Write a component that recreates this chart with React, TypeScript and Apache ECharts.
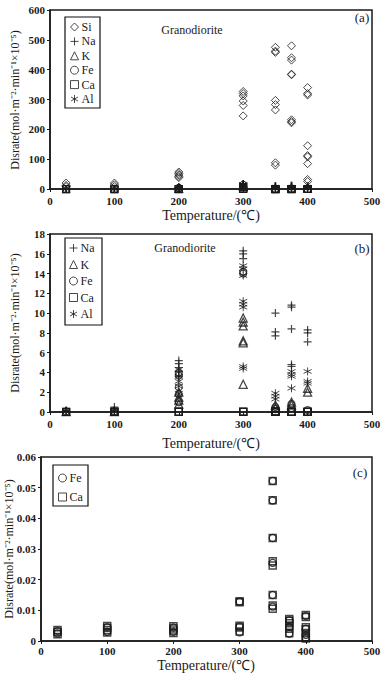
import React, { useEffect, useRef } from "react";
import * as echarts from "echarts";

// ---------- data ----------
const xMin = 0;
const xMax = 500;

// (a) Si dissolution rate
const siA: number[][] = [
  [25, 20], [25, 12], [25, 8],
  [100, 20], [100, 14], [100, 8],
  [200, 57], [200, 52], [200, 47], [200, 42], [200, 38],
  [300, 327], [300, 320], [300, 312], [300, 295], [300, 280], [300, 245],
  [350, 475], [350, 462], [350, 458], [350, 297], [350, 283], [350, 265], [350, 88], [350, 80],
  [375, 480], [375, 440], [375, 432], [375, 385], [375, 383], [375, 232], [375, 226], [375, 222],
  [400, 340], [400, 320], [400, 315], [400, 145], [400, 112], [400, 108], [400, 85], [400, 32], [400, 25],
];

const na: number[][] = [
  [25, 0.15], [25, 0.1],
  [100, 0.5], [100, 0.2], [100, 0.1],
  [200, 5.2], [200, 4.9], [200, 4.5], [200, 4.1], [200, 3.6],
  [300, 16.3], [300, 16.0], [300, 15.5],
  [350, 10.0], [350, 8.1], [350, 7.7],
  [375, 10.8], [375, 10.6], [375, 8.4], [375, 4.8], [375, 4.6],
  [400, 8.3], [400, 8.0], [400, 7.1],
];

const k: number[][] = [
  [25, 0.05], [100, 0.05],
  [200, 2.0], [200, 1.5], [200, 1.2], [200, 0.8],
  [300, 9.5], [300, 9.1], [300, 8.7], [300, 7.2], [300, 7.0], [300, 2.8],
  [350, 0.7], [350, 0.4],
  [375, 1.0], [375, 0.7],
  [400, 2.4], [400, 2.0],
];

const fe: number[][] = [
  [25, 0.05], [100, 0.05],
  [200, 4.0], [200, 3.7], [200, 2.5], [200, 1.8], [200, 1.0],
  [300, 14.2], [300, 14.0],
  [350, 0.5], [350, 0.3],
  [375, 0.8], [375, 0.4],
  [400, 0.2],
];

const al: number[][] = [
  [25, 0.1], [100, 0.1],
  [200, 4.3], [200, 3.6], [200, 3.1], [200, 2.6], [200, 1.9],
  [300, 14.8], [300, 14.5], [300, 13.8], [300, 11.2], [300, 10.9], [300, 10.6], [300, 4.6], [300, 4.4],
  [350, 1.9], [350, 1.6], [350, 1.3],
  [375, 4.1], [375, 3.8], [375, 3.6], [375, 2.4],
  [400, 4.1], [400, 3.1], [400, 2.9],
];

// (c) Fe and Ca at a finer scale
const feC: number[][] = [
  [25, 0.0033], [25, 0.0025],
  [100, 0.0045], [100, 0.003],
  [200, 0.0044], [200, 0.003],
  [300, 0.0128], [300, 0.0047], [300, 0.0028],
  [350, 0.0522], [350, 0.0458], [350, 0.0336], [350, 0.0255], [350, 0.015], [350, 0.0112],
  [375, 0.0068], [375, 0.0045], [375, 0.0024],
  [400, 0.0082], [400, 0.004], [400, 0.002], [400, 0.001],
];

const caC: number[][] = [
  [25, 0.0036], [25, 0.0029], [25, 0.0022],
  [100, 0.0049], [100, 0.0042], [100, 0.0035], [100, 0.0028],
  [200, 0.0048], [200, 0.0041], [200, 0.0034], [200, 0.0026],
  [300, 0.013], [300, 0.0126], [300, 0.005], [300, 0.0044], [300, 0.0031],
  [350, 0.0522], [350, 0.0459], [350, 0.0336], [350, 0.026], [350, 0.0246], [350, 0.015], [350, 0.0116], [350, 0.0105],
  [375, 0.0072], [375, 0.0066], [375, 0.0058], [375, 0.005], [375, 0.004], [375, 0.0025],
  [400, 0.0085], [400, 0.0078], [400, 0.0045], [400, 0.0038], [400, 0.0026], [400, 0.0012], [400, 0.0008],
];

const yRanges = [
  { max: 600, interval: 100 },
  { max: 18, interval: 2 },
  { max: 0.06, interval: 0.01 },
];

// ---------- style ----------
const FONT = "'Liberation Serif', 'Times New Roman', serif";
const INK = "#1a1a1a";
const PLUS = "path://M0,5L10,5M5,0L5,10";
const STAR = "path://M5,0L5,10M0.67,2.5L9.33,7.5M0.67,7.5L9.33,2.5";

const grids = [
  { left: 50, top: 10, width: 322, height: 179 },
  { left: 50, top: 234, width: 322, height: 178 },
  { left: 41, top: 457, width: 331, height: 184 },
];

// legend frames: x, y, w, h
const frames = [
  [65, 17, 35, 91],
  [65, 238, 37, 87],
  [53, 465, 35, 41],
];

function scatter(name: string, g: number, data: number[][], symbol: string, size: number, bw = 1) {
  return {
    type: "scatter",
    name,
    xAxisIndex: g,
    yAxisIndex: g,
    data,
    symbol,
    symbolSize: size,
    itemStyle: { color: "rgba(0,0,0,0)", borderColor: INK, borderWidth: bw },
    emphasis: { disabled: true },
  };
}

const YTITLE = "Disrate(mol·m⁻²·min⁻¹×10⁻⁵)";

export default function App() {
  const ref = useRef<HTMLDivElement>(null);
  useEffect(() => {
    if (!ref.current) return;
    const chart = echarts.init(ref.current, null, { renderer: "svg" });

    const xAxis = grids.map((_, i) => ({
      type: "value",
      gridIndex: i,
      min: xMin,
      max: xMax,
      interval: 100,
      axisLine: { show: true, lineStyle: { color: INK, width: 1.5 } },
      axisTick: { show: true, length: 3, lineStyle: { color: INK } },
      splitLine: { show: false },
      axisLabel: { fontFamily: FONT, fontWeight: "bold", fontSize: 11, color: INK, margin: i === 2 ? 4 : 6 },
    }));
    const yAxis = grids.map((_, i) => ({
      type: "value",
      gridIndex: i,
      min: 0,
      max: yRanges[i].max,
      interval: yRanges[i].interval,
      axisLine: { show: true, lineStyle: { color: INK, width: 1.5 } },
      axisTick: { show: true, length: 3, lineStyle: { color: INK } },
      splitLine: { show: false },
      axisLabel: { fontFamily: FONT, fontWeight: "bold", fontSize: 11, color: INK, margin: 5 },
    }));

    const legendBase = {
      orient: "vertical",
      borderWidth: 0,
      padding: 0,
      itemWidth: 8,
      itemHeight: 8,
      formatter: (n: string) => n.slice(2),
      itemStyle: { borderWidth: 1 },
      textStyle: { fontFamily: FONT, fontSize: 12, lineHeight: 12, color: INK, padding: [0, 0, 0, -2] },
      selectedMode: false,
    };

    const text = (x: number, y: number, t: string, size: number, rot = 0, weight = "normal") => ({
      type: "text",
      x,
      y,
      rotation: rot,
      style: {
        text: t,
        fontFamily: FONT,
        fontSize: size,
        fontWeight: weight,
        fill: INK,
        align: "center",
        verticalAlign: "middle",
      },
    });

    const frameRects = frames.map(([x, y, w, h]) => ({
      type: "rect",
      shape: { x, y, width: w, height: h },
      style: { fill: "transparent", stroke: "#111", lineWidth: 1.2 },
      z: 100,
      silent: true,
    }));

    chart.setOption({
      animation: false,
      grid: grids.map((g) => ({ ...g, show: true, borderColor: INK, borderWidth: 1.5, backgroundColor: "transparent" })),
      xAxis,
      yAxis,
      legend: [
        { ...legendBase, left: 70, top: 21, itemGap: 2.4, data: ["a-Si", "a-Na", "a-K", "a-Fe", "a-Ca", "a-Al"] },
        { ...legendBase, left: 69, top: 242, itemGap: 4.5, data: ["b-Na", "b-K", "b-Fe", "b-Ca", "b-Al"] },
        { ...legendBase, left: 58, top: 472, itemGap: 7, data: ["c-Fe", "c-Ca"] },
      ],
      series: [
        scatter("a-Si", 0, siA, "diamond", 8),
        scatter("a-Na", 0, na, PLUS, 8, 1.5),
        scatter("a-K", 0, k, "triangle", 8),
        scatter("a-Fe", 0, fe, "circle", 7),
        scatter("a-Ca", 0, caC, "rect", 7),
        scatter("a-Al", 0, al, STAR, 8),
        scatter("b-Na", 1, na, PLUS, 8, 1.2),
        scatter("b-K", 1, k, "triangle", 8, 1.3),
        scatter("b-Fe", 1, fe, "circle", 7, 1.2),
        scatter("b-Ca", 1, caC, "rect", 7, 1.2),
        scatter("b-Al", 1, al, STAR, 8, 1),
        scatter("c-Fe", 2, feC, "circle", 7, 1.3),
        scatter("c-Ca", 2, caC, "rect", 7, 1.5),
      ],
      graphic: [
        ...frameRects,
        text(192, 30, "Granodiorite", 12),
        text(185, 248, "Granodiorite", 12),
        text(362, 17, "(a)", 13),
        text(362, 248, "(b)", 13),
        text(360, 472, "(c)", 13),
        text(211, 215, "Temperature/(℃)", 14),
        text(211, 443, "Temperature/(℃)", 14),
        text(206, 665, "Temperature/(℃)", 14),
        text(15, 100, YTITLE, 12, Math.PI / 2),
        text(15, 323, YTITLE, 12, Math.PI / 2),
        text(9, 549, YTITLE, 12, Math.PI / 2),
      ],
    });
    return () => chart.dispose();
  }, []);
  return (
    <div style={{ position: "absolute", left: 0, top: 0, width: 387, height: 676, background: "#fff" }}>
      <div ref={ref} style={{ width: 387, height: 676 }} />
    </div>
  );
}
